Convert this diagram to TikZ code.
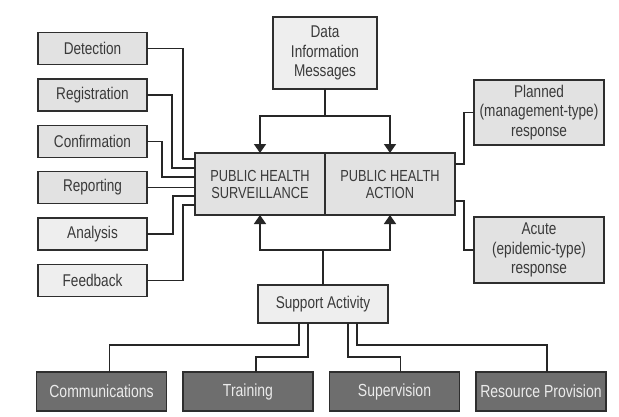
\documentclass[tikz,border=0pt]{standalone}
\usepackage{fontspec}
\setmainfont{Liberation Sans}[FakeStretch=0.8]
\usetikzlibrary{calc,arrows.meta}
\definecolor{boxfill}{HTML}{E2E2E2}
\definecolor{paleboxfill}{HTML}{EEEEEE}
\definecolor{darkfill}{HTML}{6E6E6E}
\definecolor{edgecol}{HTML}{2E2E2E}
\definecolor{txtcol}{HTML}{3A3A3A}
\begin{document}
\begin{tikzpicture}[x=1pt,y=-1pt,
  every node/.style={inner sep=0pt, outer sep=0pt, align=center,
    font=\fontsize{17}{19.5}\selectfont, text=txtcol},
  lbox/.style={draw=edgecol, line width=1.4pt, fill=boxfill},
  pbox/.style={draw=edgecol, line width=1.4pt, fill=paleboxfill},
  dbox/.style={draw=edgecol, line width=1.4pt, fill=darkfill, text=white!92!black,
    font=\fontsize{17.5}{19.5}\selectfont, minimum width=130pt, minimum height=39pt},
  side/.style={lbox, minimum width=109pt, minimum height=32pt},
  wire/.style={draw=black!85, line width=1.6pt},
  arr/.style={wire, -{Triangle[length=9pt,width=12pt]}}]

\useasboundingbox (0,0) rectangle (619,416);
\fill[white] (0,0) rectangle (619,416);

% surveillance steps on the left
\node[side] (det)  at (92.5,48.5)  {Detection};
\node[side] (reg)  at (92.5,95)    {Registration};
\node[side] (conf) at (92.5,141.5) {Confirmation};
\node[side] (rep)  at (92.5,187.5) {Reporting};
\node[side, fill=paleboxfill] (ana)  at (92.5,234)   {Analysis};
\node[side, fill=paleboxfill] (feed) at (92.5,280.5) {Feedback};

% central pair
\node[lbox, minimum width=130pt, minimum height=62pt,
      font=\fontsize{16}{17}\selectfont] (phs) at (260,184) {PUBLIC HEALTH\\SURVEILLANCE};
\node[lbox, minimum width=130pt, minimum height=62pt,
      font=\fontsize{16}{17}\selectfont] (pha) at (390,184) {PUBLIC HEALTH\\ACTION};

% inputs and support
\node[pbox, minimum width=104pt, minimum height=72pt] (data) at (325,53)
  {Data\\Information\\Messages};
\node[pbox, minimum width=130pt, minimum height=38pt] (sup) at (323,304) {Support Activity};

% responses
\node[lbox, minimum width=130pt, minimum height=65pt] (plan) at (539,112.5)
  {Planned\\(management-type)\\response};
\node[lbox, minimum width=130pt, minimum height=66pt] (acute) at (539,250)
  {Acute\\(epidemic-type)\\response};

% support components
\node[dbox] (comm)  at (101.5,391.5) {Communications};
\node[dbox] (train) at (248,391.5)   {Training};
\node[dbox] (superv) at (394.5,391.5) {Supervision};
\node[dbox] (res)   at (541,391.5)   {Resource Provision};

% data flows into both boxes
\coordinate (dj) at ($(data.south)+(0,27)$);
\draw[wire] (data.south) -- (dj);
\draw[arr] (dj) -| (phs.north);
\draw[arr] (dj) -| (pha.north);

% support feeds both boxes
\coordinate (sj) at ($(sup.north)+(0,-35)$);
\draw[wire] (sup.north) -- (sj);
\draw[arr] (sj) -| (phs.south);
\draw[arr] (sj) -| (pha.south);

% step connectors
\draw[wire] (det.east)  -| ($(phs.west)+(-12,-25)$) -- ($(phs.west)+(0,-25)$);
\draw[wire] (reg.east)  -| ($(phs.west)+(-23,-16)$) -- ($(phs.west)+(0,-16)$);
\draw[wire] (conf.east) -| ($(phs.west)+(-33,-7)$)  -- ($(phs.west)+(0,-7)$);
\draw[wire] (rep.east)  -- (rep.east -| phs.west);
\draw[wire] (ana.east)  -| ($(phs.west)+(-22,12)$)  -- ($(phs.west)+(0,12)$);
\draw[wire] (feed.east) -| ($(phs.west)+(-12,21)$)  -- ($(phs.west)+(0,21)$);

% response connectors
\draw[wire] ($(pha.north east)+(0,11)$) -- ++(9,0) |- (plan.west);
\draw[wire] ($(pha.south east)+(0,-14)$) -- ++(9,0) |- (acute.west);

% support component connectors
\draw[wire] ($(sup.south)+(-24,0)$) -- ++(0,22) -| ([xshift=8pt]comm.north);
\draw[wire] ($(sup.south)+(-15,0)$) -- ++(0,34) -| ([xshift=8pt]train.north);
\draw[wire] ($(sup.south)+(25,0)$)  -- ++(0,34) -| ([xshift=6pt]superv.north);
\draw[wire] ($(sup.south)+(34,0)$)  -- ++(0,22) -| ([xshift=6pt]res.north);
\end{tikzpicture}
\end{document}
